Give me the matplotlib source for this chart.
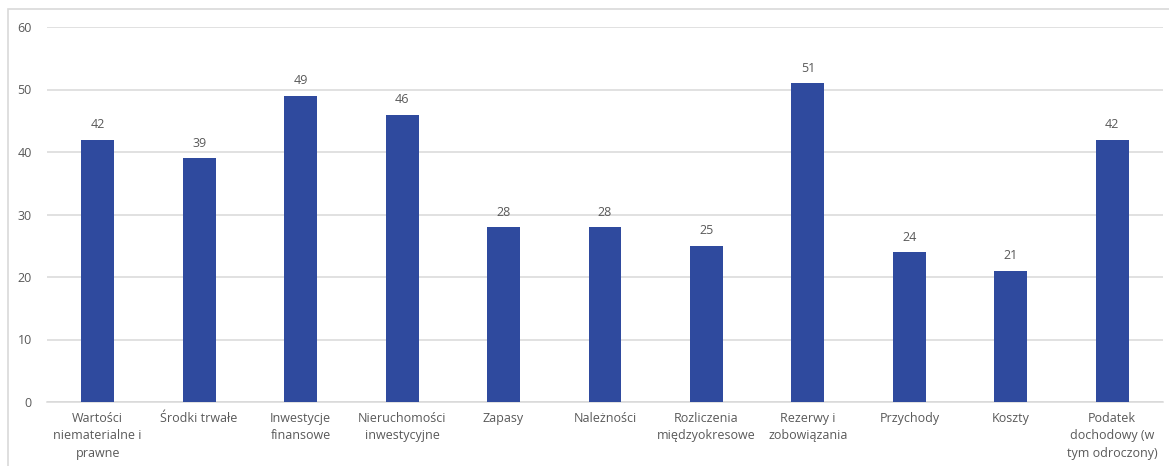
import matplotlib.pyplot as plt
from matplotlib.patches import Rectangle

categories = [
    "Wartości\nniematerialne i\nprawne",
    "Środki trwałe",
    "Inwestycje\nfinansowe",
    "Nieruchomości\ninwestycyjne",
    "Zapasy",
    "Należności",
    "Rozliczenia\nmiędzyokresowe",
    "Rezerwy i\nzobowiązania",
    "Przychody",
    "Koszty",
    "Podatek\ndochodowy (w\ntym odroczony)",
]
values = [42, 39, 49, 46, 28, 28, 25, 51, 24, 21, 42]
yticks = [0, 10, 20, 30, 40, 50, 60]

bar_color = "#2F4A9E"
text_color = "#595959"
grid_color = "#D9D9D9"

plt.rcParams['font.family'] = ['Open Sans', 'DejaVu Sans']

W, H = 1169, 466
fig = plt.figure(figsize=(W / 100, H / 100), dpi=100)

# outer chart border (cut off at the right and bottom)
fig.patches.append(Rectangle((8 / W, -0.1), 1.2, 1.1 - 9 / H, transform=fig.transFigure,
                             fill=False, edgecolor=grid_color, linewidth=1.2))

ax = fig.add_axes([47 / W, 1 - 402 / H, (1163 - 47) / W, (402 - 27) / H])
x = range(len(categories))
bars = ax.bar(x, values, width=0.325, color=bar_color, zorder=3)

for b, v in zip(bars, values):
    ax.annotate(str(v), (b.get_x() + b.get_width() / 2, v), xytext=(0, 6),
                textcoords="offset points", ha="center", va="bottom",
                fontsize=9, color=text_color)

ax.set_xlim(-0.5, len(categories) - 0.5)
ax.set_ylim(0, 60)
ax.set_yticks(yticks)
ax.set_xticks(list(x))
ax.set_xticklabels(categories, fontsize=9, color=text_color, linespacing=1.45)
ax.tick_params(axis='y', labelsize=9, labelcolor=text_color, length=0, pad=11)
ax.tick_params(axis='x', length=0, pad=7)
ax.grid(axis='y', color=grid_color, linewidth=1.1, zorder=0)
for side in ['top', 'right', 'left']:
    ax.spines[side].set_visible(False)
ax.spines['bottom'].set_color(grid_color)
ax.spines['bottom'].set_linewidth(1.1)

fig.savefig("out.png", dpi=100)
